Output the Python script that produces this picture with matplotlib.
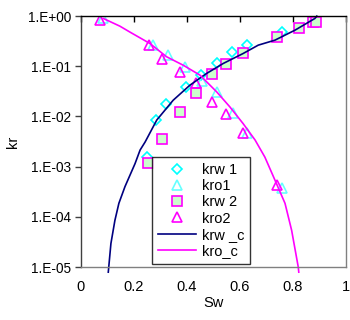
import matplotlib
matplotlib.use("Agg")
import matplotlib.pyplot as plt

plt.rcParams['font.family'] = ['Liberation Sans', 'DejaVu Sans']

# measured points (Sw, kr)
krw1_sw = [0.250, 0.283, 0.321, 0.396, 0.453, 0.512, 0.569, 0.625, 0.757, 0.880]
krw1 = [1.56e-3, 8.7e-3, 0.0176, 0.039, 0.0667, 0.119, 0.195, 0.264, 0.473, 0.90]

kro1_sw = [0.084, 0.273, 0.327, 0.392, 0.455, 0.514, 0.575, 0.625, 0.757]
kro1 = [0.90, 0.264, 0.166, 0.098, 0.051, 0.031, 0.0117, 0.0046, 3.8e-4]

krw2_sw = [0.254, 0.307, 0.374, 0.433, 0.496, 0.546, 0.610, 0.741, 0.824, 0.876, 0.887]
krw2 = [1.16e-3, 3.6e-3, 0.0123, 0.030, 0.0687, 0.109, 0.180, 0.376, 0.569, 0.75, 0.75]

kro2_sw = [0.072, 0.258, 0.307, 0.374, 0.434, 0.496, 0.546, 0.610, 0.741]
kro2 = [0.83, 0.264, 0.143, 0.078, 0.047, 0.0195, 0.0111, 0.0046, 4.3e-4]

# fitted curves
krwc_sw = [0.103, 0.113, 0.128, 0.143, 0.166, 0.204, 0.223, 0.242, 0.286, 0.348,
           0.411, 0.474, 0.537, 0.612, 0.669, 0.732, 0.808, 0.883, 0.890]
krwc = [7.9e-6, 2.95e-5, 8.5e-5, 1.86e-4, 4.0e-4, 1.15e-3, 2.14e-3, 3.1e-3, 8.5e-3, 0.0211,
        0.042, 0.072, 0.114, 0.180, 0.264, 0.332, 0.526, 0.90, 1.0]

kroc_sw = [0.084, 0.147, 0.185, 0.260, 0.323, 0.386, 0.449, 0.512, 0.562, 0.612,
           0.657, 0.694, 0.732, 0.770, 0.795, 0.820, 0.822]
kroc = [0.90, 0.63, 0.48, 0.285, 0.155, 0.105, 0.0667, 0.031, 0.0155, 0.0072,
        3.4e-3, 1.55e-3, 5.4e-4, 1.86e-4, 5.4e-5, 1.0e-5, 7.9e-6]

ytick_vals = [1e-5, 1e-4, 1e-3, 1e-2, 1e-1, 1e0]
ytick_labels = ['1.E-05', '1.E-04', '1.E-03', '1.E-02', '1.E-01', '1.E+00']
xtick_vals = [0, 0.2, 0.4, 0.6, 0.8, 1]
xtick_labels = ['0', '0.2', '0.4', '0.6', '0.8', '1']

fig = plt.figure(figsize=(3.5, 3.2), dpi=100)
ax = fig.add_axes([0.2314, 0.1656, 0.757, 0.784])

ax.plot(krw1_sw, krw1, ls='none', marker='D', ms=5.5, mfc='none', mec='#00FFFF', mew=1.2, label='krw 1')
ax.plot(kro1_sw, kro1, ls='none', marker='^', ms=7, mfc='none', mec='#66FFFF', mew=1.2, label='kro1')
ax.plot(krw2_sw, krw2, ls='none', marker='s', ms=6.8, mfc='#CCFFCC', mec='#FF00FF', mew=1.2, label='krw 2')
ax.plot(kro2_sw, kro2, ls='none', marker='^', ms=7, mfc='none', mec='#FF00FF', mew=1.2, label='kro2')
ax.plot(krwc_sw, krwc, color='#000080', lw=1.2, label='krw _c', clip_on=False)
ax.plot(kroc_sw, kroc, color='#FF00FF', lw=1.2, label='kro_c', clip_on=False)

ax.set_yscale('log')
ax.set_ylim(1e-5, 1)
ax.set_xlim(0, 1)
ax.set_yticks(ytick_vals)
ax.set_yticklabels(ytick_labels, fontsize=9.8)
ax.minorticks_off()
ax.set_xticks(xtick_vals)
ax.set_xticklabels(xtick_labels, fontsize=10.5)

ax.tick_params(axis='y', direction='out', length=4, width=1, color='#404040', pad=3)
ax.tick_params(axis='x', direction='in', length=4, width=1, color='black',
               bottom=False, top=True, labelbottom=True, labeltop=False, pad=9)

ax.spines['left'].set_color('#404040')
ax.spines['top'].set_color('black')
ax.spines['right'].set_color('#808080')
ax.spines['bottom'].set_color('#808080')
for s in ax.spines.values():
    s.set_linewidth(1)

ax.set_xlabel('Sw', fontsize=10.5, labelpad=2)
ax.set_ylabel('kr', fontsize=10.5, labelpad=6)

leg = ax.legend(loc='upper left', bbox_to_anchor=(0.268, 0.438), fontsize=10.5,
                frameon=True, fancybox=False, shadow=False, borderpad=0.4,
                labelspacing=0.15, handlelength=2.6, handletextpad=0.4,
                borderaxespad=0)
leg.get_frame().set_edgecolor('black')
leg.get_frame().set_linewidth(1)

fig.savefig('out.png', dpi=100)
